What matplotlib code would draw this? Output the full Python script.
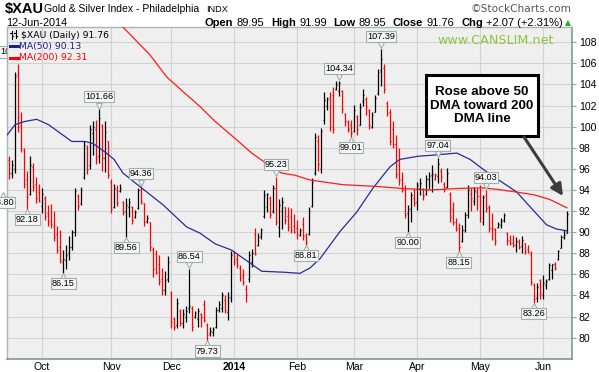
import numpy as np
import pandas as pd
import matplotlib
matplotlib.use("Agg")
import matplotlib.pyplot as plt
from matplotlib.lines import Line2D
import matplotlib.transforms as mtransforms

# ---------------- data ----------------
symbol = "$XAU"
title = "Gold & Silver Index - Philadelphia"
exchange = "INDX"
date_label = "12-Jun-2014"

holidays = ["2013-11-28", "2013-12-25", "2014-01-01", "2014-01-20",
            "2014-02-17", "2014-04-18", "2014-05-26"]
dates = pd.bdate_range("2013-09-16", "2014-06-12")
dates = dates[~dates.isin(pd.to_datetime(holidays))]

opens = [96.8, 95.6, 96.0, 105.0, 100.2, 97.8, 95.0, 93.6, 96.2, 94.6,
         93.8, 92.5, 93.2, 91.8, 91.2, 90.6, 89.8, 88.6, 87.2, 87.4,
         88.0, 88.6, 90.0, 93.4, 92.8, 95.2, 98.0, 96.4, 99.4, 99.8,
         97.2, 100.2, 97.0, 98.6, 94.8, 92.4, 94.0, 93.9, 92.9, 92.0,
         92.4, 92.4, 91.4, 92.3, 94.0, 92.8, 91.1, 91.0, 88.4, 87.9,
         87.0, 85.6, 84.5, 85.6, 84.2, 81.8, 81.2, 82.5, 81.4, 82.0,
         82.8, 82.8, 82.0, 81.8, 82.2, 83.2, 81.2, 80.4, 80.5, 81.0,
         82.6, 82.8, 83.6, 82.4, 83.8, 88.0, 87.5, 86.6, 85.9, 84.6,
         85.6, 87.2, 89.8, 88.8, 89.6, 91.5, 92.4, 93.2, 92.0, 94.2,
         90.5, 92.0, 92.4, 91.5, 91.5, 90.6, 90.4, 89.7, 90.8, 89.7,
         89.8, 92.5, 95.6, 98.6, 96.0, 100.6, 102.0, 102.8, 103.0, 103.6,
         103.4, 103.4, 101.2, 100.4, 100.2, 99.6, 101.0, 100.2, 102.4, 102.6,
         101.6, 100.0, 101.4, 103.2, 105.4, 105.6, 102.2, 101.4, 99.8, 98.4,
         96.4, 95.0, 94.2, 91.8, 92.2, 93.2, 92.9, 94.2, 94.1, 93.6,
         95.0, 95.4, 95.0, 95.3, 95.8, 94.6, 94.3, 93.6, 92.2, 91.0,
         90.4, 89.2, 90.2, 91.6, 93.6, 93.0, 93.8, 93.4, 91.0, 93.5,
         92.4, 90.4, 90.3, 90.5, 90.7, 91.2, 89.9, 89.2, 89.0, 88.8,
         89.1, 88.7, 89.0, 88.4, 87.9, 85.0, 83.8, 85.5, 84.0, 85.0,
         85.6, 86.4, 87.0, 87.5, 88.5, 89.5, 89.95]
highs = [97.2, 96.8, 105.2, 105.9, 101.4, 98.0, 95.8, 97.2, 96.6, 95.2,
         94.6, 94.2, 93.4, 92.6, 92.7, 92.0, 90.6, 90.2, 88.3, 88.8,
         89.6, 90.2, 94.2, 93.6, 94.3, 98.6, 98.3, 100.2, 100.5, 100.6,
         101.66, 100.3, 100.5, 98.6, 95.0, 94.6, 94.5, 94.6, 93.0, 93.2,
         93.2, 92.5, 92.1, 94.2, 94.36, 92.8, 91.6, 91.0, 88.6, 88.3,
         87.8, 86.6, 86.3, 87.7, 84.4, 82.0, 83.8, 82.7, 82.7, 83.0,
         86.54, 83.0, 82.5, 82.8, 82.3, 83.6, 81.4, 81.0, 81.0, 82.9,
         83.5, 84.3, 84.0, 84.3, 88.2, 88.2, 87.9, 86.9, 86.5, 85.0,
         88.2, 88.4, 90.4, 89.9, 90.4, 94.0, 93.7, 93.4, 94.5, 95.23,
         93.1, 93.3, 92.4, 92.4, 92.3, 91.7, 91.2, 90.4, 91.4, 89.9,
         92.4, 95.1, 99.4, 99.2, 99.9, 103.3, 102.8, 103.3, 103.8, 104.3,
         104.34, 103.5, 101.3, 100.6, 100.6, 102.1, 101.1, 102.2, 103.6, 102.8,
         101.7, 101.4, 103.0, 105.5, 107.39, 105.9, 102.4, 101.7, 100.5, 99.2,
         98.0, 95.7, 94.5, 92.6, 93.8, 94.1, 94.8, 95.1, 94.2, 95.4,
         95.7, 96.4, 95.6, 97.04, 96.1, 94.8, 96.1, 93.85, 92.9, 91.3,
         90.9, 90.7, 91.95, 94.5, 94.2, 94.3, 94.2, 94.5, 93.5, 94.03,
         92.6, 91.8, 90.4, 91.0, 91.3, 91.8, 90.05, 89.7, 89.7, 89.55,
         89.4, 89.6, 89.0, 88.8, 88.2, 85.2, 85.2, 85.6, 85.9, 85.6,
         87.1, 87.0, 87.2, 88.3, 89.7, 90.2, 91.99]
lows = [95.0, 95.1, 95.6, 99.5, 97.6, 94.2, 92.18, 93.5, 93.9, 92.8,
        92.9, 91.8, 91.2, 90.6, 90.4, 89.2, 88.0, 87.1, 86.15, 86.5,
        87.4, 88.3, 89.6, 92.1, 92.6, 95.0, 95.5, 96.0, 97.3, 96.5,
        96.6, 95.8, 95.7, 95.1, 91.8, 92.3, 92.5, 93.8, 91.6, 89.56,
        91.4, 90.8, 91.3, 92.2, 92.7, 90.6, 90.9, 88.2, 85.8, 86.0,
        85.0, 84.0, 84.0, 85.3, 80.9, 80.7, 80.9, 81.1, 80.9, 81.5,
        82.3, 80.6, 81.9, 81.0, 81.0, 81.5, 79.73, 80.2, 80.2, 80.9,
        82.4, 82.4, 82.3, 81.7, 83.4, 86.9, 86.6, 85.4, 85.0, 83.4,
        85.3, 86.7, 87.8, 88.7, 89.4, 91.3, 91.9, 91.3, 91.8, 90.7,
        89.5, 90.3, 90.8, 90.1, 89.9, 89.9, 89.4, 89.6, 89.3, 88.81,
        89.7, 92.4, 95.4, 95.8, 95.6, 100.3, 101.6, 99.6, 99.4, 103.5,
        102.9, 101.3, 100.1, 99.5, 99.01, 99.5, 99.2, 100.2, 102.0, 101.1,
        99.8, 99.9, 101.4, 103.0, 103.9, 103.2, 101.0, 98.3, 98.0, 95.1,
        94.5, 93.8, 91.3, 90.0, 91.0, 92.5, 92.1, 93.5, 93.05, 93.5,
        94.1, 93.8, 94.95, 94.7, 94.8, 93.85, 94.2, 91.0, 90.7, 90.1,
        88.15, 89.1, 90.05, 91.3, 92.0, 92.6, 92.1, 91.0, 90.7, 91.9,
        90.05, 89.3, 88.8, 90.4, 90.4, 91.0, 88.8, 88.8, 88.6, 88.1,
        88.4, 88.0, 87.9, 88.0, 85.0, 83.26, 83.4, 83.7, 83.7, 84.6,
        85.5, 85.6, 86.4, 87.4, 88.5, 89.4, 89.95]
closes = [95.6, 96.4, 104.8, 100.0, 98.0, 94.6, 93.3, 96.4, 94.3, 93.2,
          93.0, 93.6, 91.5, 91.0, 90.8, 89.5, 88.3, 87.4, 87.5, 87.8,
          88.6, 90.0, 93.9, 92.5, 94.0, 98.3, 96.0, 99.8, 100.0, 97.0,
          100.8, 97.0, 99.5, 95.4, 92.2, 94.2, 92.8, 94.2, 91.9, 92.6,
          92.9, 91.2, 91.9, 94.0, 93.0, 91.0, 91.3, 88.6, 86.5, 86.2,
          85.4, 84.5, 85.5, 87.2, 81.5, 81.0, 83.3, 81.4, 82.2, 82.5,
          83.0, 81.0, 82.3, 82.5, 82.0, 81.7, 80.3, 80.6, 80.8, 82.6,
          83.2, 84.0, 82.6, 83.9, 87.8, 87.2, 86.9, 85.7, 85.3, 84.0,
          87.8, 88.0, 87.9, 89.5, 90.2, 93.5, 93.6, 91.6, 94.2, 91.0,
          92.6, 92.9, 91.2, 90.5, 90.2, 90.0, 89.8, 90.2, 89.6, 89.0,
          92.0, 94.8, 99.0, 96.5, 99.6, 102.5, 102.6, 100.0, 99.8, 104.0,
          104.1, 101.7, 100.5, 99.8, 99.4, 101.6, 99.8, 101.9, 103.0, 102.0,
          100.2, 101.1, 102.7, 105.2, 106.4, 103.6, 101.3, 98.6, 98.4, 95.5,
          94.9, 94.1, 91.6, 92.2, 93.5, 92.8, 94.5, 94.7, 93.4, 95.0,
          95.3, 95.5, 95.4, 96.5, 95.2, 94.3, 95.6, 91.4, 91.0, 90.3,
          88.6, 90.2, 91.6, 94.0, 93.2, 93.9, 93.4, 91.3, 93.3, 92.3,
          90.4, 90.3, 89.2, 90.8, 91.1, 91.6, 89.3, 89.0, 88.8, 89.2,
          88.6, 89.3, 88.2, 88.1, 85.3, 83.7, 84.8, 84.2, 85.2, 85.4,
          86.9, 86.95, 86.6, 88.2, 89.5, 89.69, 91.76]
close_before_window = 96.2

ma50_idx = [-0.7, 2.0, 5.3, 9.2, 13.1, 20.9, 25.3, 28.0, 32.0, 35.0, 38.0,
            43.7, 51.3, 59.2, 63.7, 68.7, 74.2, 78.7, 84.2, 92.0, 97.0,
            100.3, 103.7, 110.3, 115.9, 121.4, 127.0, 130.3, 136.4, 141.3,
            149.3, 153.7, 159.3, 163.0, 169.3, 174.7, 179.2, 182.5, 186.0]
ma50_val = [99.2, 100.2, 100.5, 100.7, 100.2, 98.6, 98.6, 98.4, 97.6, 96.9,
            95.6, 94.3, 92.6, 90.5, 89.9, 88.9, 88.3, 87.4, 86.3, 86.2,
            86.1, 86.6, 87.5, 90.05, 91.9, 94.2, 96.2, 96.9, 97.2, 97.3,
            97.5, 96.9, 95.7, 95.0, 93.8, 92.1, 90.7, 90.3, 90.13]
ma200_idx = [35.0, 38.1, 47.0, 52.6, 58.1, 63.7, 68.7, 75.3, 80.9, 86.4,
             90.9, 95.3, 100.3, 111.3, 122.0, 130.3, 140.3, 150.0, 158.0,
             163.0, 169.3, 175.0, 180.3, 186.0]
ma200_val = [110.3, 109.4, 106.8, 104.7, 103.3, 101.9, 100.5, 98.9, 97.5,
             96.4, 95.6, 95.4, 94.95, 94.5, 94.35, 94.16, 94.0, 94.15, 94.2,
             94.05, 93.8, 93.55, 93.1, 92.31]

high_label_idx = [30, 44, 60, 89, 110, 124, 143, 159]
low_label_idx = [6, 18, 39, 66, 99, 114, 133, 150, 175]
edge_low_label = (-2.2, 93.80)      # bar just left of the window
edge_high_label_text = "10"         # label of a bar further left, only "10" shows

y_ticks = list(range(80, 109, 2))
y_range = (77.98, 109.45)
annotation_text = "Rose above 50\nDMA toward 200\nDMA line"
watermark = "www.CANSLIM.net"
copyright_text = "\u00a9StockCharts.com"

# ---------------- figure ----------------
W, H = 599, 372
fig = plt.figure(figsize=(W / 100, H / 100), dpi=100)
fig.patch.set_facecolor("white")
PL, PR, PT, PB = 7, 572, 27, 359
ax = fig.add_axes([PL / W, 1 - PB / H, (PR - PL) / W, (PB - PT) / H])
ax.set_facecolor("#efefef")


def fxy(px, py):
    return px / W, 1 - py / H


n = len(closes)
x = np.arange(n)
o = np.array(opens); h = np.array(highs); l = np.array(lows); c = np.array(closes)
prev = np.concatenate([[close_before_window], c[:-1]])
cols = np.where(c > prev, "#000000", "#ff0000")

ax.set_xlim(-0.7, 187.7)
ax.set_ylim(*y_range)

# grid
month_pos, month_lab = [], []
for (yy, mm) in [(2013, 10), (2013, 11), (2013, 12), (2014, 1), (2014, 2),
                 (2014, 3), (2014, 4), (2014, 5), (2014, 6)]:
    idx = np.where((dates.year == yy) & (dates.month == mm))[0][0]
    month_pos.append(idx)
    month_lab.append("2014" if mm == 1 else pd.Timestamp(yy, mm, 1).strftime("%b"))
for mp in month_pos:
    ax.axvline(mp, color="#d2d2d2", lw=0.8, zorder=0)
for yt in y_ticks:
    ax.axhline(yt, color="#d2d2d2", lw=0.8, zorder=0)

# OHLC bars
ax.vlines(x, l, h, colors=cols, lw=0.9, zorder=3)
ax.hlines(o, x - 0.45, x, colors=cols, lw=0.9, zorder=3)
ax.hlines(c, x, x + 0.45, colors=cols, lw=0.9, zorder=3)

# moving averages
ax.plot(ma50_idx, ma50_val, color="#2a2a9c", lw=0.9, zorder=4)
ax.plot(ma200_idx, ma200_val, color="#ff1a1a", lw=0.9, zorder=4)

# axes styling
ax.yaxis.tick_right()
ax.set_yticks(y_ticks)
ax.set_yticklabels([str(v) for v in y_ticks])
ax.tick_params(axis="y", right=True, left=False, length=3, width=0.8,
               color="#8fa59d", labelsize=7.6, pad=2)
ax.set_xticks(month_pos)
ax.set_xticklabels(month_lab)
ax.tick_params(axis="x", length=0, labelsize=7.6, pad=2.5)
for lab in ax.get_yticklabels() + ax.get_xticklabels():
    lab.set_family("Liberation Sans")
for lab in ax.get_xticklabels():
    if lab.get_text() == "2014":
        lab.set_fontweight("bold")
for side in ["left", "top"]:
    ax.spines[side].set_color("#a7b8b1")
    ax.spines[side].set_linewidth(1.0)
for side in ["right", "bottom"]:
    ax.spines[side].set_color("#7f9990")
    ax.spines[side].set_linewidth(1.2)
    ax.spines[side].set_linestyle((0, (1, 1)))

# price labels
LBL_FC, LBL_EC = "#f6f6f6", "#9fb0aa"


def price_label(i, v, high):
    off = 9.0 if high else -7.6
    ax.annotate(f"{v:.2f}", xy=(i, v), xytext=(0, off), textcoords="offset points",
                ha="center", va="center", fontsize=6.6, family="Liberation Sans",
                bbox=dict(boxstyle="square,pad=0.12", fc=LBL_FC, ec=LBL_EC, lw=0.8),
                annotation_clip=False, zorder=7)
    tr = mtransforms.offset_copy(ax.transData, fig=fig, x=0,
                                 y=(2.6 if high else -2.0), units="points")
    ax.plot([i], [v], marker=("v" if high else "^"), ms=4.5, mfc=LBL_FC,
            mec=LBL_EC, mew=0.8, transform=tr, zorder=6, clip_on=False)


for i in high_label_idx:
    price_label(i, highs[i], True)
for i in low_label_idx:
    price_label(i, lows[i], False)
price_label(edge_low_label[0], edge_low_label[1], False)

# high label of a bar left of the window: only its first digits show
fig.text(*fxy(0.5, 52), edge_high_label_text, ha="left", va="center", fontsize=6.6,
         family="Liberation Sans", zorder=-1,
         bbox=dict(boxstyle="square,pad=0.12", fc=LBL_FC, ec=LBL_EC, lw=0.8))

# legend inside the plot
fig.text(*fxy(21, 35), f"{symbol} (Daily) {closes[-1]:.2f}", fontsize=6.7,
         family="DejaVu Sans", va="center", ha="left", color="#000000")
fig.text(*fxy(19, 46.3), f"MA(50) {ma50_val[-1]:.2f}", fontsize=6.7,
         family="DejaVu Sans", va="center", ha="left", color="#1f1f8c")
fig.text(*fxy(19, 57.7), f"MA(200) {ma200_val[-1]:.2f}", fontsize=6.7,
         family="DejaVu Sans", va="center", ha="left", color="#ff0000")
ident = mtransforms.IdentityTransform()
fig.add_artist(Line2D([10, 18], [H - 46.3, H - 46.3], color="#1f1f8c", lw=2.2, transform=ident))
fig.add_artist(Line2D([10, 18], [H - 57.7, H - 57.7], color="#ff0000", lw=2.2, transform=ident))
for bx, y0, y1 in [(11.5, 31, 39), (15.5, 30, 38)]:
    fig.add_artist(Line2D([bx, bx], [H - y1, H - y0], color="#000", lw=0.8, transform=ident))
    fig.add_artist(Line2D([bx - 1.5, bx], [H - 33, H - 33], color="#000", lw=0.8, transform=ident))
    fig.add_artist(Line2D([bx, bx + 1.5], [H - 36, H - 36], color="#000", lw=0.8, transform=ident))

# watermark
ax.text((496 - PL) / (PR - PL), (PB - 41) / (PB - PT), watermark, transform=ax.transAxes,
        ha="center", va="center", fontsize=9.2, family="DejaVu Sans", color="#8cc63f",
        zorder=8)

# annotation box and arrow
bx0, bx1, by0, by1 = 426, 538, 75, 136
ax.text(((bx0 + bx1) / 2 - PL) / (PR - PL), (PB - (by0 + by1) / 2) / (PB - PT),
        annotation_text, transform=ax.transAxes, ha="center", va="center",
        fontsize=9.6, fontweight="bold", family="Liberation Sans", linespacing=1.12,
        zorder=10)
rect = plt.Rectangle(((bx0 - PL) / (PR - PL), (PB - by1) / (PB - PT)),
                     (bx1 - bx0) / (PR - PL), (by1 - by0) / (PB - PT),
                     transform=ax.transAxes, fc="white", ec="black", lw=2.2, zorder=9)
ax.add_patch(rect)
ax.annotate("", xy=((563 - PL) / (PR - PL), (PB - 196) / (PB - PT)),
            xytext=((524 - PL) / (PR - PL), (PB - 137) / (PB - PT)),
            xycoords="axes fraction", textcoords="axes fraction",
            arrowprops=dict(arrowstyle="-|>,head_length=0.7,head_width=0.35",
                            lw=2.2, color="#3c3c3c", shrinkA=0, shrinkB=0),
            zorder=9)

# header
fig.text(*fxy(5, 9), symbol, fontsize=10.5, fontweight="bold", family="Liberation Sans",
         va="center", ha="left")
fig.text(*fxy(44, 9), title, fontsize=7.5, family="Liberation Sans", va="center", ha="left")
fig.text(*fxy(206, 9.5), exchange, fontsize=6.6, family="Liberation Sans", va="center", ha="left")
fig.text(*fxy(6, 22.5), date_label, fontsize=7.8, family="Liberation Sans", va="center", ha="left")
fig.text(*fxy(572, 9), copyright_text, fontsize=7.6, family="DejaVu Sans",
         color="#555555", va="center", ha="right")

chg = closes[-1] - closes[-2]
pct = chg / closes[-2] * 100
parts = [("Open", True), (f"{opens[-1]:.2f}", False), ("High", True), (f"{highs[-1]:.2f}", False),
         ("Low", True), (f"{lows[-1]:.2f}", False), ("Close", True), (f"{closes[-1]:.2f}", False),
         ("Chg", True), (f"{chg:+.2f} ({pct:+.2f}%)", False)]
renderer = fig.canvas.get_renderer()
cur = 563.0
for k, (txt, bold) in enumerate(reversed(parts)):
    t = fig.text(*fxy(cur, 22.5), txt, fontsize=8.0, family="Liberation Sans",
                 fontweight=("bold" if bold else "normal"), va="center", ha="right")
    w = t.get_window_extent(renderer).width
    gap = 3.5 if not bold else 6.5
    cur -= w + gap
fig.text(*fxy(568, 23), "\u25b2", fontsize=5.5, family="DejaVu Sans", color="#22aa22",
         va="center", ha="center")

fig.savefig("out.png", dpi=100, facecolor="white")
